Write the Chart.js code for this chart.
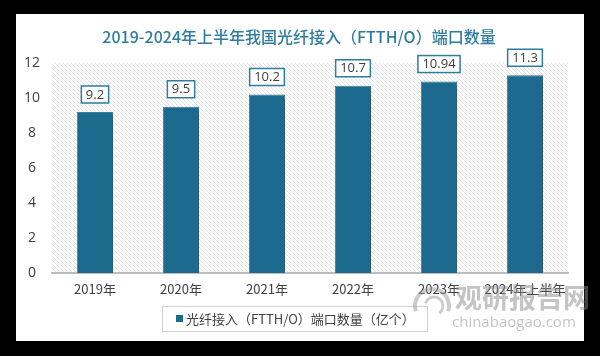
<!DOCTYPE html>
<html><head><meta charset="utf-8">
<script src="https://cdn.jsdelivr.net/npm/chart.js@4"></script>
<style>html,body{margin:0;padding:0;background:#000;}#wrap{width:600px;height:356px;position:relative;}</style>
</head><body><div id="wrap"><canvas id="c" width="600" height="356"></canvas></div>
<script>
const categories = ['2019年','2020年','2021年','2022年','2023年','2024年上半年'];
const values = [9.2, 9.5, 10.2, 10.7, 10.94, 11.3];
const valueLabels = ['9.2','9.5','10.2','10.7','10.94','11.3'];
const yTicks = [0,2,4,6,8,10,12];
const seriesName = '光纤接入（FTTH/O）端口数量（亿个）';
const titleText = '2019-2024年上半年我国光纤接入（FTTH/O）端口数量';

const BAR = '#1C6A8D';
const ACC = '#2E7CA0';

function hatch(ctx){
  const n=4;
  const p = document.createElement('canvas'); p.width=n; p.height=n;
  const c = p.getContext('2d');
  c.fillStyle='#ffffff'; c.fillRect(0,0,n,n);
  c.strokeStyle='#e2e2e2'; c.lineWidth=1;
  c.beginPath(); c.moveTo(-1,-1); c.lineTo(n+1,n+1); c.stroke();
  c.beginPath(); c.moveTo(-1,n-1); c.lineTo(1,n+1); c.stroke();
  c.beginPath(); c.moveTo(n-1,-1); c.lineTo(n+1,1); c.stroke();
  return ctx.createPattern(p,'repeat');
}

const bgPlugin = {
  id:'bg',
  beforeDraw(chart){
    const ctx = chart.ctx, a = chart.chartArea;
    ctx.save();
    ctx.fillStyle='#000'; ctx.fillRect(0,0,600,356);
    ctx.fillStyle='#fff'; ctx.fillRect(16,14,568,327);
    ctx.fillStyle = hatch(ctx);
    ctx.fillRect(a.left, a.top, a.right-a.left, a.bottom-a.top);
    ctx.restore();
  },
  beforeDatasetDraw(chart){
    const ctx=chart.ctx; ctx.save();
    ctx.shadowColor='rgba(0,0,0,0.35)'; ctx.shadowOffsetX=3; ctx.shadowOffsetY=1; ctx.shadowBlur=3;
  },
  afterDatasetDraw(chart){ chart.ctx.restore(); },
  afterDraw(chart){
    const ctx = chart.ctx;
    ctx.save();
    // title
    ctx.fillStyle=ACC; ctx.font='500 16px "Noto Sans CJK SC", sans-serif';
    ctx.textAlign='center'; ctx.textBaseline='middle';
    ctx.fillText(titleText, 299, 37);
    // data labels
    const meta = chart.getDatasetMeta(0);
    ctx.font='13px "Open Sans", "Noto Sans", sans-serif';
    meta.data.forEach((el,i)=>{
      const t = valueLabels[i];
      const w = ctx.measureText(t).width + 9;
      const h = 17;
      const x = el.x - w/2, y = el.y - 9 - h;
      ctx.fillStyle='#fff'; ctx.fillRect(x,y,w,h);
      ctx.strokeStyle=ACC; ctx.lineWidth=1.5; ctx.strokeRect(x,y,w,h);
      ctx.fillStyle='#404040'; ctx.fillText(t, el.x, y+h/2+0.5);
    });
    // legend box
    ctx.strokeStyle='#d0d0d0'; ctx.lineWidth=1;
    ctx.strokeRect(162.5,306.5,265,25);
    ctx.fillStyle=BAR; ctx.fillRect(176,315,7,7);
    ctx.fillStyle='#404040'; ctx.textAlign='left';
    ctx.font='13px "Noto Sans CJK SC", sans-serif';
    ctx.fillText(seriesName, 186, 319);
    // watermark
    ctx.globalAlpha=0.5;
    ctx.strokeStyle='#9a9a9a'; ctx.lineWidth=4;
    ctx.beginPath(); ctx.arc(432,306,17,Math.PI*0.9,Math.PI*2.1); ctx.stroke();
    ctx.lineWidth=3;
    ctx.beginPath(); ctx.arc(434,306,9,Math.PI*1.1,Math.PI*2.3); ctx.stroke();
    ctx.fillStyle='#8a8a8a';
    ctx.font='bold 27px "Noto Sans CJK SC", sans-serif';
    ctx.textAlign='left'; ctx.textBaseline='middle';
    ctx.fillText('观研报告网', 455, 298);
    ctx.font='15px "Open Sans", sans-serif';
    ctx.fillText('chinabaogao.com', 452, 323);
    ctx.restore();
  }
};

new Chart(document.getElementById('c'), {
  type:'bar',
  data:{ labels: categories, datasets:[{ label: seriesName, data: values, backgroundColor: BAR, borderColor:'#3F86A8', borderWidth:1, categoryPercentage:0.84, barPercentage:0.5 }]},
  options:{
    responsive:false, animation:false, devicePixelRatio:1,
    layout:{ padding:{ top:63, right:32, bottom:0, left:0 } },
    plugins:{ legend:{display:false}, title:{display:false}, tooltip:{enabled:false} },
    scales:{
      x:{
        grid:{ display:false, drawTicks:false },
        border:{ display:true, color:'#bdbdbd', width:2 },
        ticks:{ color:'#404040', font:{ size:13, family:'"Noto Sans CJK SC", sans-serif' }, padding:8, maxRotation:0, autoSkip:false },
        afterFit(s){ s.height = 83; }
      },
      y:{
        min:0, max:12,
        afterBuildTicks(s){ s.ticks = yTicks.map(v=>({value:v})); },
        grid:{ display:false, drawTicks:false },
        border:{ display:false },
        ticks:{ color:'#404040', font:{ size:14, family:'"Open Sans", "Noto Sans", sans-serif' }, padding:12, align:'center', crossAlign:'center' },
        afterFit(s){ s.width = 52; }
      }
    }
  },
  plugins:[bgPlugin]
});
</script></body></html>
